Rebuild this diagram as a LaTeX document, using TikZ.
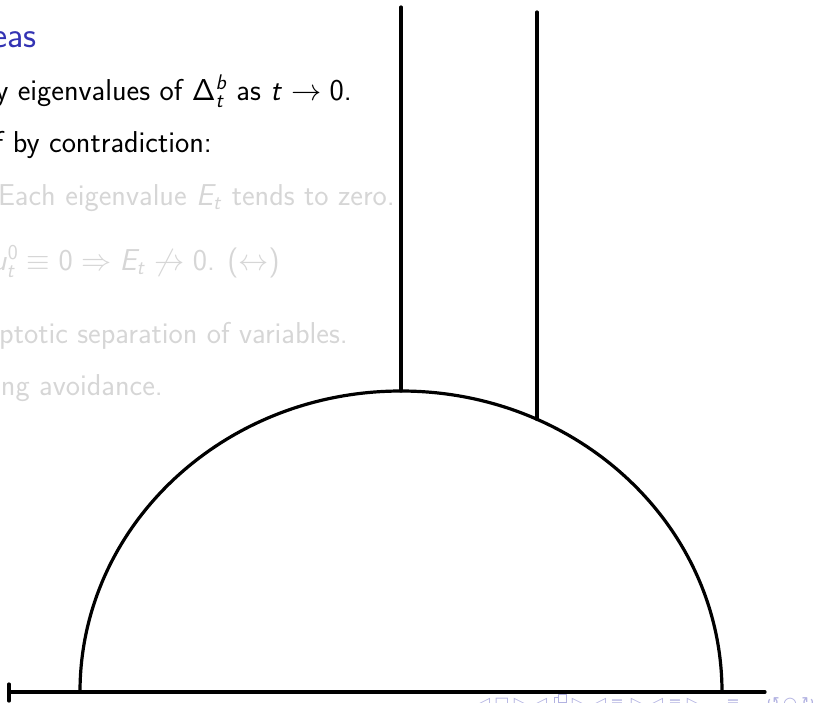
\documentclass[tikz,border=0pt]{standalone}
\usepackage{fix-cm}
\usepackage[no-math]{fontspec}
\newfontfamily\navfont{DejaVu Sans}
\DeclareMathAlphabet{\mathsfit}{OT1}{cmss}{m}{sl}
\definecolor{titleblue}{RGB}{51,51,179}
\definecolor{covered}{RGB}{214,214,214}
\definecolor{navcol}{RGB}{178,178,225}
\tikzset{
  bodytext/.style={anchor=base east, inner sep=0pt, font=\fontsize{30.2}{34}\selectfont\sffamily},
  smalltext/.style={anchor=base east, inner sep=0pt, text=covered, font=\fontsize{30.2}{34}\selectfont\sffamily},
  titletext/.style={anchor=base east, inner sep=0pt, text=titleblue, font=\fontsize{36}{40}\selectfont\sffamily},
  navsym/.style={anchor=base, inner sep=0pt, text=navcol, font=\fontsize{16}{17}\selectfont\navfont},
  navbox/.style={draw=navcol, line width=1pt, minimum width=8pt, minimum height=8pt, inner sep=0pt, fill=white},
  heavy/.style={draw=black, line width=3.2pt, line cap=round},
}
\begin{document}
\begin{tikzpicture}[x=1pt,y=-1pt]
\useasboundingbox (0,0) rectangle (822,702);
\clip (0,0) rectangle (822,702);
% slide text
\node[titletext] (title) at (37,47) {eas};
\node[bodytext] (l1) at (352,100) {y eigenvalues of $\mathsf{\Delta}_{\mathsfit{t}}^{\mathsfit{b}}$ as $\mathsfit{t}\rightarrow\mathsf{0}$.};
\node[bodytext] (l2) at (212,152) {f by contradiction:};
\node[smalltext] (l3) at (395,205) {Each eigenvalue $\mathsfit{E}_{\mathsfit{t}}$ tends to zero.};
\node[smalltext] (l4) at (280,270) {$\mathsfit{u}_{\mathsfit{t}}^{\mathsf{0}}\equiv\mathsf{0}\Rightarrow\mathsfit{E}_{\mathsfit{t}}\not\rightarrow\mathsf{0}$. ($\leftrightarrow$)};
\node[smalltext] (l5) at (348,343) {ptotic separation of variables.};
\node[smalltext] (l6) at (163,395) {ng avoidance.};
% navigation symbols
\foreach \s/\xx [count=\i] in {◁/484,□/502,▷/520,◁/541,▷/578,◁/600,≡/617,▷/637,◁/657,≡/675,▷/693,≡/733,↺/773,○/790,↻/808}
  \node[navsym] (nav\i) at (\xx,708) {\s};
\node[navbox] (framebackbox) at (558,701) {};
\node[navbox] (framefrontbox) at (562,698) {};
% drawing
\coordinate (v1top) at (401,7);
\coordinate (v1bot) at (401,391);
\coordinate (v2top) at (537,12);
\coordinate (v2bot) at (537,419.5);
\coordinate (baseL) at (9,692);
\coordinate (baseR) at (765,692);
\coordinate (footL) at (80,692);
\coordinate (tickT) at (9,684);
\coordinate (tickB) at (9,701);
\draw[heavy] (baseL) -- (baseR);
\draw[heavy] (tickT) -- (tickB);
\draw[heavy] (footL) arc[start angle=180, end angle=0, x radius=321pt, y radius=301pt];
\draw[heavy] (v1top) -- (v1bot);
\draw[heavy] (v2top) -- (v2bot);
\end{tikzpicture}
\end{document}
